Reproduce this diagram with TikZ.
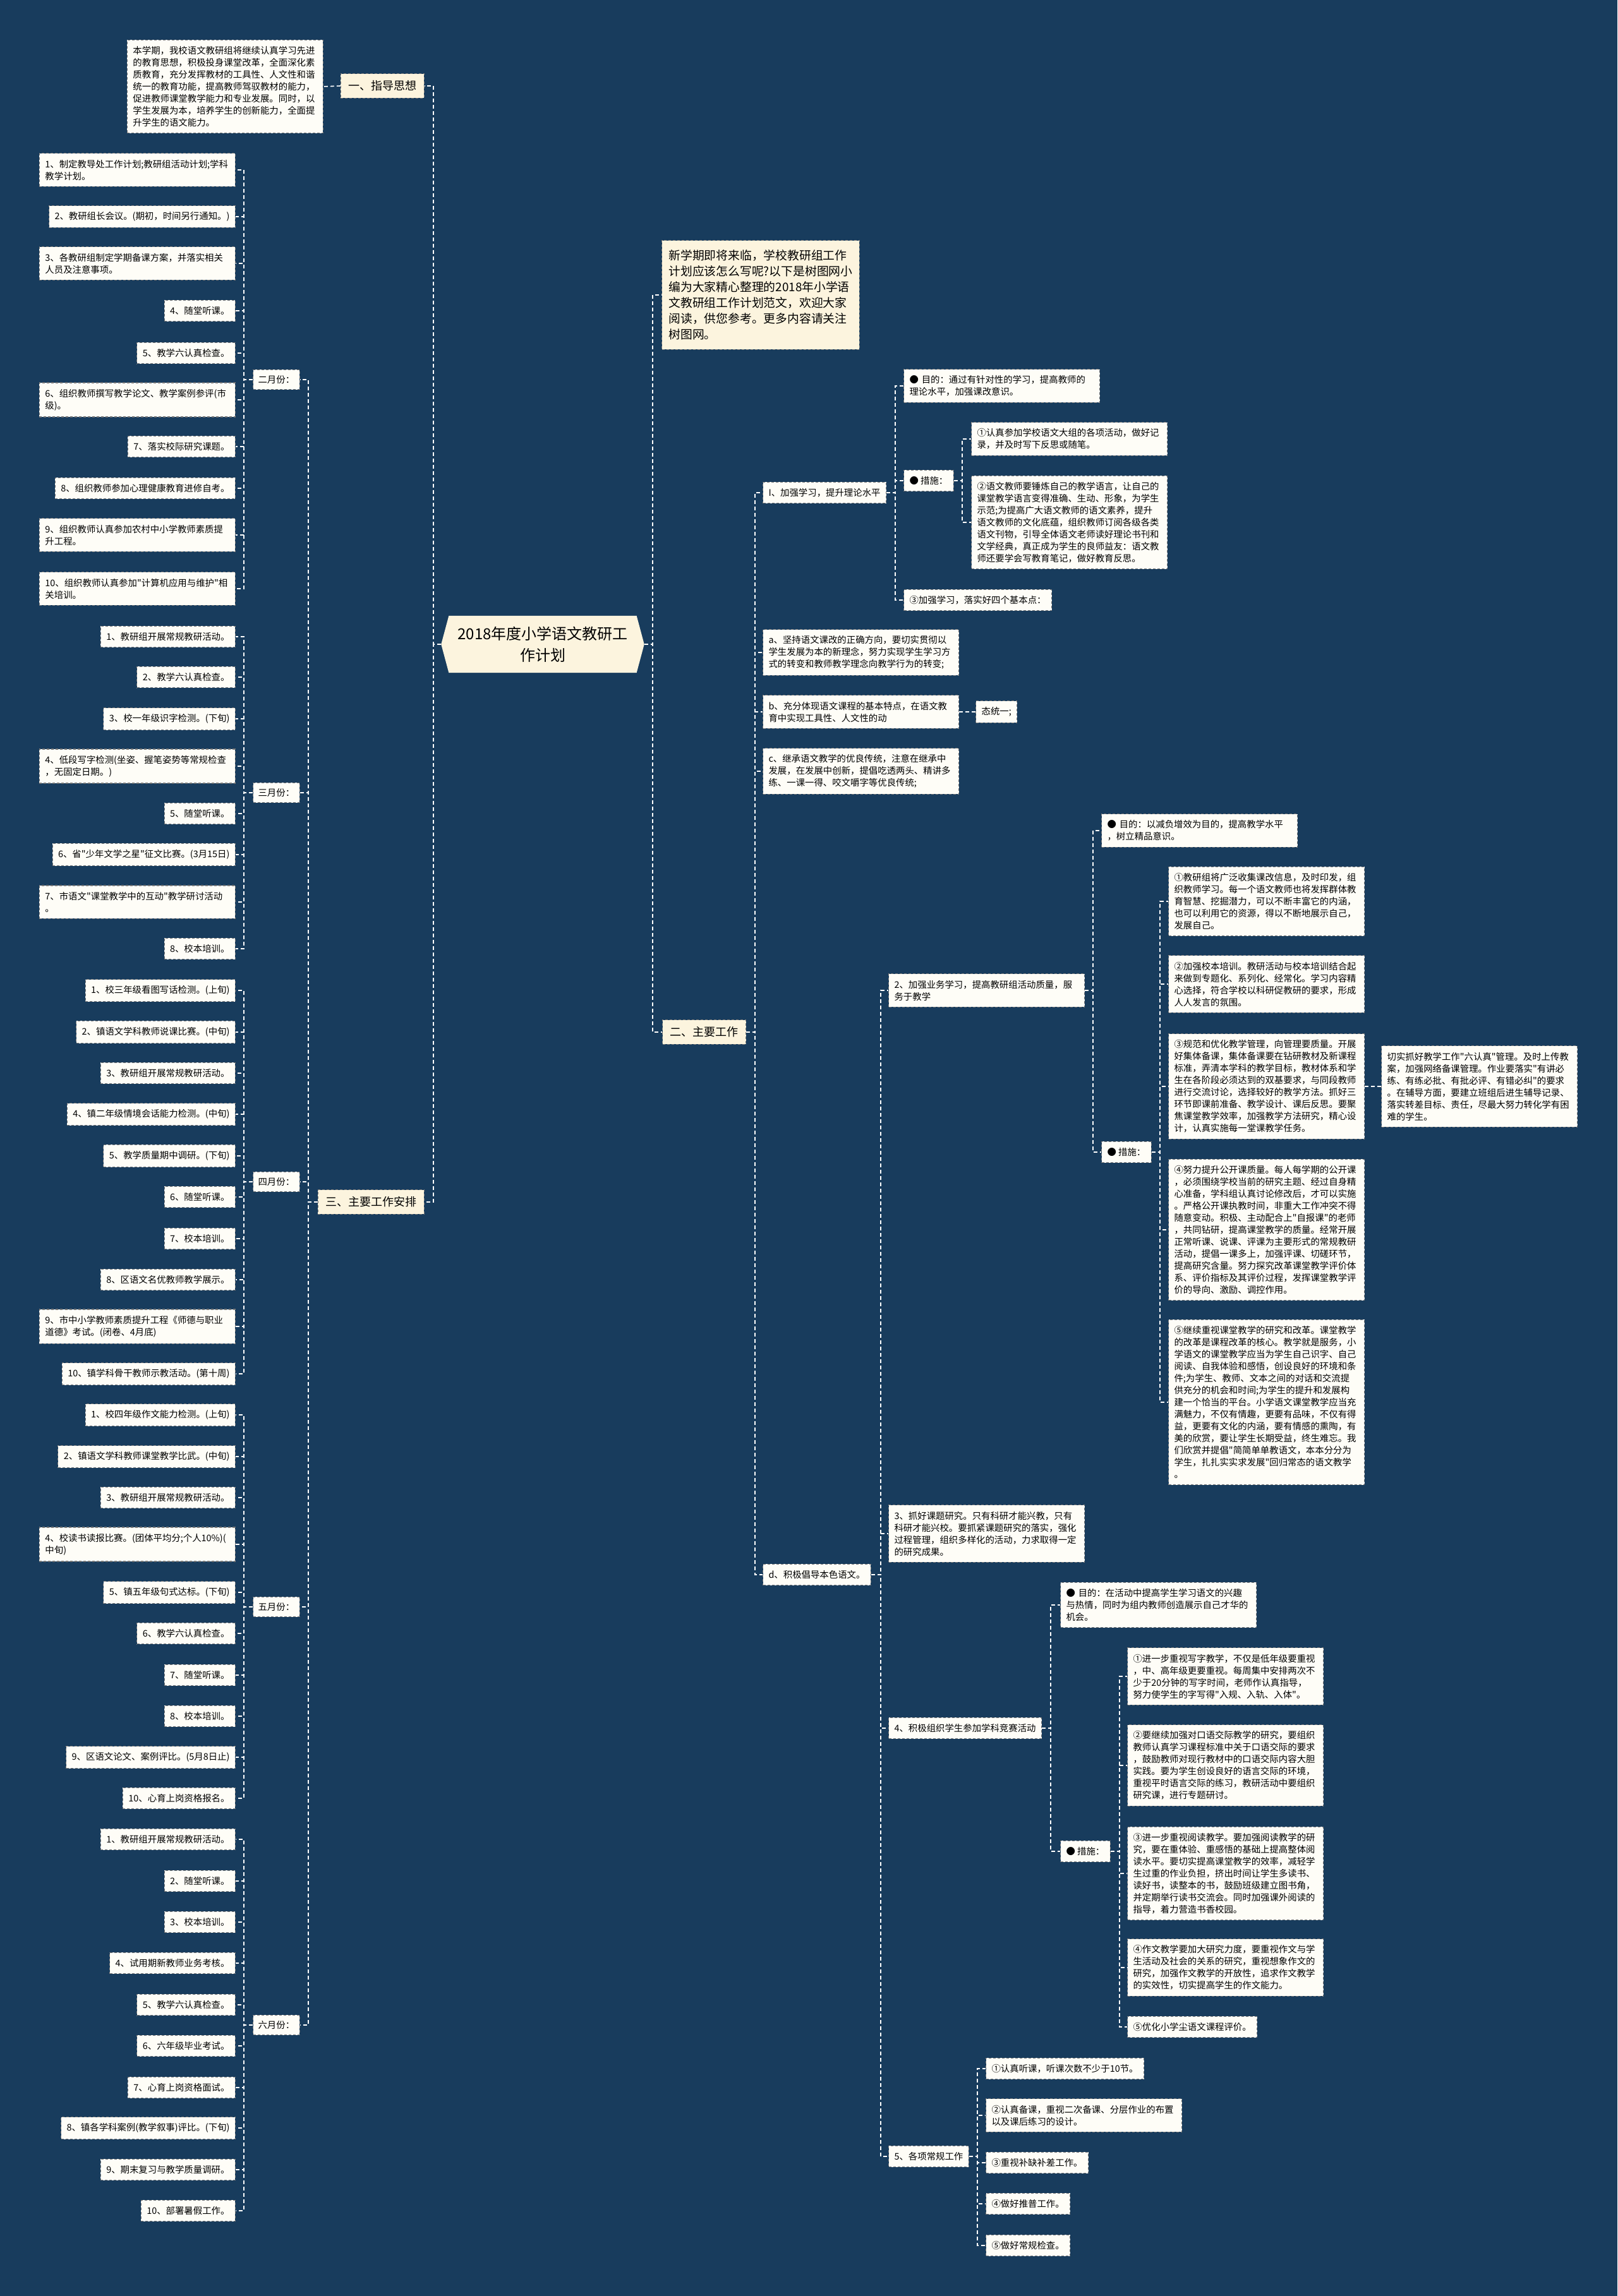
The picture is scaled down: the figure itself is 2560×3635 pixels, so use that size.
\documentclass[tikz,border=0pt]{standalone}
\usepackage{fontspec}
\newfontfamily\zhfont{Noto Sans CJK SC}
\usepackage{tikz}
\usetikzlibrary{positioning, shapes.symbols}
\definecolor{backdrop}{RGB}{24,60,93}
\definecolor{topicfill}{RGB}{252,244,222}
\definecolor{leaffill}{RGB}{254,253,247}
\definecolor{boxedge}{RGB}{120,120,120}
\newcommand\leaffont{\zhfont\fontsize{14.4pt}{19pt}\selectfont}
\newcommand\topicfont{\zhfont\fontsize{18pt}{22pt}\selectfont}
\newcommand\introfont{\zhfont\fontsize{18.8pt}{25pt}\selectfont}
\newcommand\headfont{\zhfont\fontsize{24pt}{34pt}\selectfont}

\begin{document}
\begin{tikzpicture}[
    x=1pt, y=-1pt,
    cardbox/.style={draw=boxedge, line width=1.1pt, dash pattern=on 4pt off 3pt,
                    inner xsep=9pt, inner ysep=10pt, align=left, font=\leaffont},
    leafbox/.style={cardbox, fill=leaffill},
    widebox/.style={leafbox, text width=292pt},
    monthbox/.style={leafbox, inner xsep=8pt, inner ysep=9pt},
    topicbox/.style={cardbox, fill=topicfill, font=\topicfont, inner xsep=12pt, inner ysep=11pt},
    linkline/.style={draw=white, line width=1.6pt, dash pattern=on 6pt off 4pt},
]

% page
\useasboundingbox (0,0) rectangle (2560,3635);
\fill[backdrop] (0,0) rectangle (2560,3635);

% root
\node[signal, signal to=west and east, signal pointer angle=150, fill=topicfill,
      font=\headfont, align=center, inner xsep=14pt, inner ysep=17pt]
      (title) at (859,1020) {2018年度小学语文教研工\\作计划};

% left side: guide and schedule
\node[topicbox, anchor=east] (guide) at (672,136) {一、指导思想};
\node[widebox, anchor=east] (guidetext) at (512,137) {本学期，我校语文教研组将继续认真学习先进\\的教育思想，积极投身课堂改革，全面深化素\\质教育，充分发挥教材的工具性、人文性和谐\\统一的教育功能，提高教师驾驭教材的能力，\\促进教师课堂教学能力和专业发展。同时，以\\学生发展为本，培养学生的创新能力，全面提\\升学生的语文能力。};
\node[topicbox, anchor=east] (plan) at (672,1903) {三、主要工作安排};

\node[monthbox, anchor=west] (feb) at (400,601) {二月份：};
\node[monthbox, anchor=west] (mar) at (400,1255) {三月份：};
\node[monthbox, anchor=west] (apr) at (400,1871) {四月份：};
\node[monthbox, anchor=west] (may) at (400,2544) {五月份：};
\node[monthbox, anchor=west] (jun) at (400,3206) {六月份：};

% february
\node[widebox, anchor=east] (feb1) at (373,269) {1、制定教导处工作计划;教研组活动计划;学科\\教学计划。};
\node[leafbox, anchor=east] (feb2) at (373,343) {2、教研组长会议。(期初，时间另行通知。)};
\node[widebox, anchor=east] (feb3) at (373,417) {3、各教研组制定学期备课方案，并落实相关\\人员及注意事项。};
\node[leafbox, anchor=east] (feb4) at (373,492) {4、随堂听课。};
\node[leafbox, anchor=east] (feb5) at (373,559) {5、教学六认真检查。};
\node[widebox, anchor=east] (feb6) at (373,633) {6、组织教师撰写教学论文、教学案例参评(市\\级)。};
\node[leafbox, anchor=east] (feb7) at (373,707) {7、落实校际研究课题。};
\node[leafbox, anchor=east] (feb8) at (373,773) {8、组织教师参加心理健康教育进修自考。};
\node[widebox, anchor=east] (feb9) at (373,847) {9、组织教师认真参加农村中小学教师素质提\\升工程。};
\node[widebox, anchor=east] (feb10) at (373,932) {10、组织教师认真参加"计算机应用与维护"相\\关培训。};

% march
\node[leafbox, anchor=east] (mar1) at (373,1008) {1、教研组开展常规教研活动。};
\node[leafbox, anchor=east] (mar2) at (373,1072) {2、教学六认真检查。};
\node[leafbox, anchor=east] (mar3) at (373,1138) {3、校一年级识字检测。(下旬)};
\node[widebox, anchor=east] (mar4) at (373,1213) {4、低段写字检测(坐姿、握笔姿势等常规检查\\，无固定日期。)};
\node[leafbox, anchor=east] (mar5) at (373,1288) {5、随堂听课。};
\node[leafbox, anchor=east] (mar6) at (373,1353) {6、省"少年文学之星"征文比赛。(3月15日)};
\node[widebox, anchor=east] (mar7) at (373,1428) {7、市语文"课堂教学中的互动"教学研讨活动\\。};
\node[leafbox, anchor=east] (mar8) at (373,1502) {8、校本培训。};

% april
\node[leafbox, anchor=east] (apr1) at (373,1568) {1、校三年级看图写话检测。(上旬)};
\node[leafbox, anchor=east] (apr2) at (373,1634) {2、镇语文学科教师说课比赛。(中旬)};
\node[leafbox, anchor=east] (apr3) at (373,1699) {3、教研组开展常规教研活动。};
\node[leafbox, anchor=east] (apr4) at (373,1764) {4、镇二年级情境会话能力检测。(中旬)};
\node[leafbox, anchor=east] (apr5) at (373,1830) {5、教学质量期中调研。(下旬)};
\node[leafbox, anchor=east] (apr6) at (373,1895) {6、随堂听课。};
\node[leafbox, anchor=east] (apr7) at (373,1961) {7、校本培训。};
\node[leafbox, anchor=east] (apr8) at (373,2026) {8、区语文名优教师教学展示。};
\node[widebox, anchor=east] (apr9) at (373,2100) {9、市中小学教师素质提升工程《师德与职业\\道德》考试。(闭卷、4月底)};
\node[leafbox, anchor=east] (apr10) at (373,2175) {10、镇学科骨干教师示教活动。(第十周)};

% may
\node[leafbox, anchor=east] (may1) at (373,2240) {1、校四年级作文能力检测。(上旬)};
\node[leafbox, anchor=east] (may2) at (373,2306) {2、镇语文学科教师课堂教学比武。(中旬)};
\node[leafbox, anchor=east] (may3) at (373,2371) {3、教研组开展常规教研活动。};
\node[widebox, anchor=east] (may4) at (373,2445) {4、校读书读报比赛。(团体平均分;个人10\%)(\\中旬)};
\node[leafbox, anchor=east] (may5) at (373,2521) {5、镇五年级句式达标。(下旬)};
\node[leafbox, anchor=east] (may6) at (373,2586) {6、教学六认真检查。};
\node[leafbox, anchor=east] (may7) at (373,2652) {7、随堂听课。};
\node[leafbox, anchor=east] (may8) at (373,2717) {8、校本培训。};
\node[leafbox, anchor=east] (may9) at (373,2782) {9、区语文论文、案例评比。(5月8日止)};
\node[leafbox, anchor=east] (may10) at (373,2847) {10、心育上岗资格报名。};

% june
\node[leafbox, anchor=east] (jun1) at (373,2912) {1、教研组开展常规教研活动。};
\node[leafbox, anchor=east] (jun2) at (373,2978) {2、随堂听课。};
\node[leafbox, anchor=east] (jun3) at (373,3043) {3、校本培训。};
\node[leafbox, anchor=east] (jun4) at (373,3108) {4、试用期新教师业务考核。};
\node[leafbox, anchor=east] (jun5) at (373,3174) {5、教学六认真检查。};
\node[leafbox, anchor=east] (jun6) at (373,3239) {6、六年级毕业考试。};
\node[leafbox, anchor=east] (jun7) at (373,3305) {7、心育上岗资格面试。};
\node[leafbox, anchor=east] (jun8) at (373,3369) {8、镇各学科案例(教学叙事)评比。(下旬)};
\node[leafbox, anchor=east] (jun9) at (373,3435) {9、期末复习与教学质量调研。};
\node[leafbox, anchor=east] (jun10) at (373,3500) {10、部署暑假工作。};

% right side: intro and main work
\node[topicbox, font=\introfont, inner xsep=11pt, inner ysep=15pt, align=left, anchor=west]
      (intro) at (1047,467) {新学期即将来临，学校教研组工作\\计划应该怎么写呢?以下是树图网小\\编为大家精心整理的2018年小学语\\文教研组工作计划范文，欢迎大家\\阅读，供您参考。更多内容请关注\\树图网。};
\node[topicbox, anchor=west] (work) at (1048,1634) {二、主要工作};

\node[leafbox, anchor=west] (study) at (1207,780) {I、加强学习，提升理论水平};
\node[widebox, anchor=west] (studyaim) at (1430,611) {● 目的：通过有针对性的学习，提高教师的\\理论水平，加强课改意识。};
\node[leafbox, anchor=west] (studymeans) at (1430,761) {● 措施：};
\node[widebox, anchor=west] (studym1) at (1537,695) {①认真参加学校语文大组的各项活动，做好记\\录，并及时写下反思或随笔。};
\node[widebox, anchor=west] (studym2) at (1537,827) {②语文教师要锤炼自己的教学语言，让自己的\\课堂教学语言变得准确、生动、形象，为学生\\示范;为提高广大语文教师的语文素养，提升\\语文教师的文化底蕴，组织教师订阅各级各类\\语文刊物，引导全体语文老师读好理论书刊和\\文学经典，真正成为学生的良师益友：语文教\\师还要学会写教育笔记，做好教育反思。};
\node[leafbox, anchor=west] (studyfour) at (1430,950) {③加强学习，落实好四个基本点：};

\node[widebox, anchor=west] (pointa) at (1207,1033) {a、坚持语文课改的正确方向，要切实贯彻以\\学生发展为本的新理念，努力实现学生学习方\\式的转变和教师教学理念向教学行为的转变;};
\node[widebox, anchor=west] (pointb) at (1207,1127) {b、充分体现语文课程的基本特点，在语文教\\育中实现工具性、人文性的动};
\node[leafbox, right=26pt of pointb] (pointbtail) {态统一;};
\node[widebox, anchor=west] (pointc) at (1207,1221) {c、继承语文教学的优良传统，注意在继承中\\发展，在发展中创新，提倡吃透两头、精讲多\\练、一课一得、咬文嚼字等优良传统;};
\node[leafbox, anchor=west] (pointd) at (1207,2493) {d、积极倡导本色语文。};

% under d
\node[widebox, anchor=west] (pro) at (1406,1568) {2、加强业务学习，提高教研组活动质量，服\\务于教学};
\node[widebox, anchor=west] (proaim) at (1743,1315) {● 目的：以减负增效为目的，提高教学水平\\，树立精品意识。};
\node[leafbox, anchor=west] (promeans) at (1743,1824) {● 措施：};
\node[widebox, anchor=west] (pro1) at (1849,1427) {①教研组将广泛收集课改信息，及时印发，组\\织教师学习。每一个语文教师也将发挥群体教\\育智慧、挖掘潜力，可以不断丰富它的内涵，\\也可以利用它的资源，得以不断地展示自己，\\发展自己。};
\node[widebox, anchor=west] (pro2) at (1849,1558) {②加强校本培训。教研活动与校本培训结合起\\来做到专题化、系列化、经常化。学习内容精\\心选择，符合学校以科研促教研的要求，形成\\人人发言的氛围。};
\node[widebox, anchor=west] (pro3) at (1849,1720) {③规范和优化教学管理，向管理要质量。开展\\好集体备课，集体备课要在钻研教材及新课程\\标准，弄清本学科的教学目标，教材体系和学\\生在各阶段必须达到的双基要求，与同段教师\\进行交流讨论，选择较好的教学方法。抓好三\\环节即课前准备、教学设计、课后反思。要聚\\焦课堂教学效率，加强教学方法研究，精心设\\计，认真实施每一堂课教学任务。};
\node[widebox, right=26pt of pro3] (pro3note) {切实抓好教学工作"六认真"管理。及时上传教\\案，加强网络备课管理。作业要落实"有讲必\\练、有练必批、有批必评、有错必纠"的要求\\。在辅导方面，要建立班组后进生辅导记录、\\落实转差目标、责任，尽最大努力转化学有困\\难的学生。};
\node[widebox, anchor=west] (pro4) at (1849,1947) {④努力提升公开课质量。每人每学期的公开课\\，必须围绕学校当前的研究主题、经过自身精\\心准备，学科组认真讨论修改后，才可以实施\\。严格公开课执教时间，非重大工作冲突不得\\随意变动。积极、主动配合上"自报课"的老师\\，共同钻研，提高课堂教学的质量。经常开展\\正常听课、说课、评课为主要形式的常规教研\\活动，提倡一课多上，加强评课、切磋环节，\\提高研究含量。努力探究改革课堂教学评价体\\系、评价指标及其评价过程，发挥课堂教学评\\价的导向、激励、调控作用。};
\node[widebox, anchor=west] (pro5) at (1849,2220) {⑤继续重视课堂教学的研究和改革。课堂教学\\的改革是课程改革的核心。教学就是服务，小\\学语文的课堂教学应当为学生自己识字、自己\\阅读、自我体验和感悟，创设良好的环境和条\\件;为学生、教师、文本之间的对话和交流提\\供充分的机会和时间;为学生的提升和发展构\\建一个恰当的平台。小学语文课堂教学应当充\\满魅力，不仅有情趣，更要有品味，不仅有得\\益，更要有文化的内涵，要有情感的熏陶，有\\美的欣赏，要让学生长期受益，终生难忘。我\\们欣赏并提倡"简简单单教语文，本本分分为\\学生，扎扎实实求发展"回归常态的语文教学\\。};

\node[widebox, anchor=west] (research) at (1406,2428) {3、抓好课题研究。只有科研才能兴教，只有\\科研才能兴校。要抓紧课题研究的落实，强化\\过程管理，组织多样化的活动，力求取得一定\\的研究成果。};

\node[leafbox, anchor=west] (contest) at (1406,2736) {4、积极组织学生参加学科竞赛活动};
\node[widebox, anchor=west] (contestaim) at (1678,2541) {● 目的：在活动中提高学生学习语文的兴趣\\与热情，同时为组内教师创造展示自己才华的\\机会。};
\node[leafbox, anchor=west] (contestmeans) at (1678,2931) {● 措施：};
\node[widebox, anchor=west] (contest1) at (1784,2654) {①进一步重视写字教学，不仅是低年级要重视\\，中、高年级更要重视。每周集中安排两次不\\少于20分钟的写字时间，老师作认真指导，\\努力使学生的字写得"入规、入轨、入体"。};
\node[widebox, anchor=west] (contest2) at (1784,2795) {②要继续加强对口语交际教学的研究，要组织\\教师认真学习课程标准中关于口语交际的要求\\，鼓励教师对现行教材中的口语交际内容大胆\\实践。要为学生创设良好的语言交际的环境，\\重视平时语言交际的练习，教研活动中要组织\\研究课，进行专题研讨。};
\node[widebox, anchor=west] (contest3) at (1784,2966) {③进一步重视阅读教学。要加强阅读教学的研\\究，要在重体验、重感悟的基础上提高整体阅\\读水平。要切实提高课堂教学的效率，减轻学\\生过重的作业负担，挤出时间让学生多读书、\\读好书，读整本的书，鼓励班级建立图书角，\\并定期举行读书交流会。同时加强课外阅读的\\指导，着力营造书香校园。};
\node[widebox, anchor=west] (contest4) at (1784,3115) {④作文教学要加大研究力度，要重视作文与学\\生活动及社会的关系的研究，重视想象作文的\\研究，加强作文教学的开放性，追求作文教学\\的实效性，切实提高学生的作文能力。};
\node[leafbox, anchor=west] (contest5) at (1784,3209) {⑤优化小学尘语文课程评价。};

\node[leafbox, anchor=west] (routine) at (1406,3414) {5、各项常规工作};
\node[leafbox, anchor=west] (routine1) at (1560,3275) {①认真听课，听课次数不少于10节。};
\node[widebox, anchor=west] (routine2) at (1560,3349) {②认真备课，重视二次备课、分层作业的布置\\以及课后练习的设计。};
\node[leafbox, anchor=west] (routine3) at (1560,3424) {③重视补缺补差工作。};
\node[leafbox, anchor=west] (routine4) at (1560,3489) {④做好推普工作。};
\node[leafbox, anchor=west] (routine5) at (1560,3555) {⑤做好常规检查。};

% connectors, left side
\draw[linkline] (title.west) -- ++(-12,0) |- (guide.east);
\draw[linkline] (title.west) -- ++(-12,0) |- (plan.east);
\draw[linkline] (guide.west) -- (guidetext.east);
\foreach \m in {feb,mar,apr,may,jun}
    \draw[linkline] (plan.west) -- ++(-15,0) |- (\m.east);
\foreach \i in {1,...,10} {
    \draw[linkline] (feb.west) -- ++(-14,0) |- (feb\i.east);
    \draw[linkline] (apr.west) -- ++(-14,0) |- (apr\i.east);
    \draw[linkline] (may.west) -- ++(-14,0) |- (may\i.east);
    \draw[linkline] (jun.west) -- ++(-14,0) |- (jun\i.east);
}
\foreach \i in {1,...,8}
    \draw[linkline] (mar.west) -- ++(-14,0) |- (mar\i.east);

% connectors, right side
\draw[linkline] (title.east) -- ++(13,0) |- (intro.west);
\draw[linkline] (title.east) -- ++(13,0) |- (work.west);
\foreach \n in {study,pointa,pointb,pointc,pointd}
    \draw[linkline] (work.east) -- ++(14,0) |- (\n.west);
\foreach \n in {studyaim,studymeans,studyfour}
    \draw[linkline] (study.east) -- ++(14,0) |- (\n.west);
\foreach \n in {studym1,studym2}
    \draw[linkline] (studymeans.east) -- ++(13,0) |- (\n.west);
\draw[linkline] (pointb.east) -- (pointbtail.west);
\foreach \n in {pro,research,contest,routine}
    \draw[linkline] (pointd.east) -- ++(15,0) |- (\n.west);
\foreach \n in {proaim,promeans}
    \draw[linkline] (pro.east) -- ++(13,0) |- (\n.west);
\foreach \i in {1,...,5} {
    \draw[linkline] (promeans.east) -- ++(13,0) |- (pro\i.west);
    \draw[linkline] (contestmeans.east) -- ++(14,0) |- (contest\i.west);
    \draw[linkline] (routine.east) -- ++(13,0) |- (routine\i.west);
}
\draw[linkline] (pro3.east) -- (pro3note.west);
\foreach \n in {contestaim,contestmeans}
    \draw[linkline] (contest.east) -- ++(14,0) |- (\n.west);

\end{tikzpicture}
\end{document}
